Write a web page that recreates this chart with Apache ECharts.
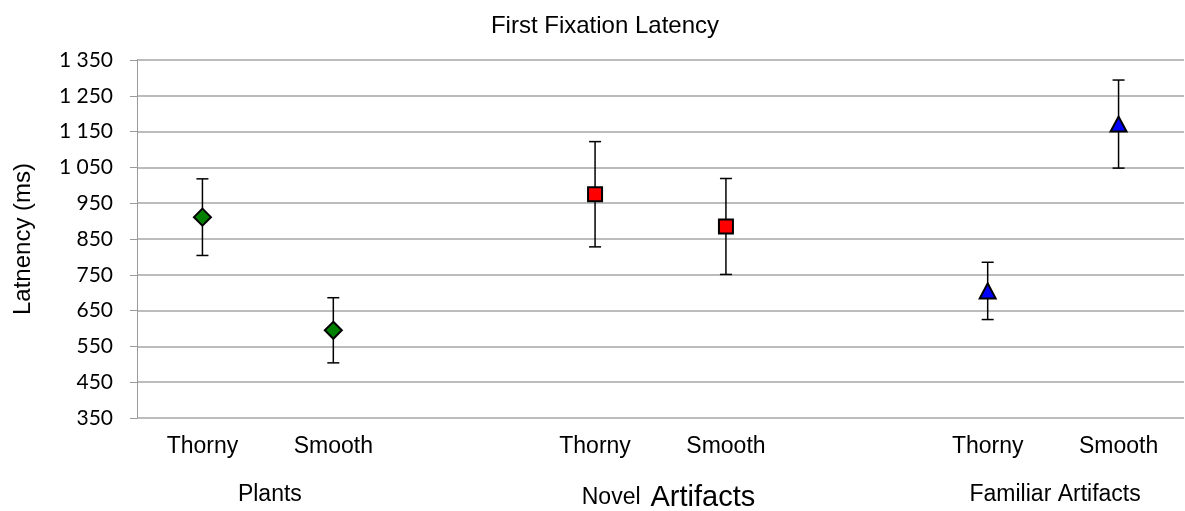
<!DOCTYPE html>
<html>
<head>
<meta charset="utf-8">
<title>First Fixation Latency</title>
<script src="https://cdn.jsdelivr.net/npm/echarts@6/dist/echarts.min.js"></script>
<style>
  html, body { margin: 0; padding: 0; background: #ffffff; }
  #chart { width: 1185px; height: 511px; }
</style>
</head>
<body>
<div id="chart"></div>
<script>
// Category slots: two conditions per stimulus group, blank slot between groups
const categories = ['Thorny', 'Smooth', '', 'Thorny', 'Smooth', '', 'Thorny', 'Smooth'];
const groupNames = ['Plants', 'Novel Artifacts', 'Familiar Artifacts'];
const groupSlots = [[0, 1], [3, 4], [6, 7]];

// Mean latency (ms) and error bar half-width per condition [Thorny, Smooth]
const plantsMean = [911, 595];
const plantsErr = [107, 91];
const novelMean = [975, 885];
const novelErr = [147, 134];
const familiarMean = [705, 1171];
const familiarErr = [80, 123];

// Value axis range
const yMin = 350;
const yMax = 1350;
const yStep = 100;

const FONT = '"Liberation Sans", Arial, sans-serif';

function points(slots, means) {
  return slots.map((s, i) => [s, means[i]]);
}
function errRows(slots, means, errs) {
  return slots.map((s, i) => [s, means[i] - errs[i], means[i] + errs[i]]);
}

const errData = []
  .concat(errRows(groupSlots[0], plantsMean, plantsErr))
  .concat(errRows(groupSlots[1], novelMean, novelErr))
  .concat(errRows(groupSlots[2], familiarMean, familiarErr));

function fmtThousands(v) {
  if (v >= 1000) {
    return Math.floor(v / 1000) + ' ' + String(v % 1000).padStart(3, '0');
  }
  return String(v);
}

const chart = echarts.init(document.getElementById('chart'), null, { renderer: 'canvas' });

const option = {
  animation: false,
  backgroundColor: '#ffffff',
  title: {
    text: 'First Fixation Latency',
    left: 600,
    top: 9,
    textAlign: 'center',
    textStyle: { fontFamily: FONT, fontSize: 24, fontWeight: 'normal', color: '#000000' }
  },
  grid: { left: 137, right: 1, top: 60, bottom: 93, containLabel: false },
  xAxis: {
    type: 'category',
    data: categories,
    boundaryGap: true,
    axisLine: { show: false },
    axisTick: { show: false },
    splitLine: { show: false },
    axisLabel: {
      interval: 0,
      margin: 17,
      fontFamily: FONT,
      fontSize: 23,
      color: '#000000'
    }
  },
  yAxis: {
    type: 'value',
    min: yMin,
    max: yMax,
    interval: yStep,
    name: 'Latnency (ms)',
    nameLocation: 'middle',
    nameGap: 102,
    nameRotate: 90,
    nameTextStyle: { fontFamily: FONT, fontSize: 24, color: '#000000' },
    axisLine: { show: true, lineStyle: { color: '#9a9a9a', width: 1 } },
    axisTick: { show: true, length: 7, lineStyle: { color: '#9a9a9a', width: 1 } },
    splitLine: { show: true, lineStyle: { color: '#a6a6a6', width: 1.5 } },
    axisLabel: {
      margin: 24,
      fontFamily: 'Lato, "Open Sans", sans-serif',
      fontSize: 21,
      color: '#000000',
      formatter: fmtThousands
    }
  },
  series: [
    {
      type: 'custom',
      name: 'error',
      z: 2,
      data: errData,
      encode: { x: 0, y: [1, 2] },
      renderItem: function (params, api) {
        const x = api.value(0);
        const lo = api.coord([x, api.value(1)]);
        const hi = api.coord([x, api.value(2)]);
        const cap = 6;
        const style = { stroke: '#000000', lineWidth: 1.5, fill: null };
        return {
          type: 'group',
          children: [
            { type: 'line', shape: { x1: lo[0], y1: lo[1], x2: hi[0], y2: hi[1] }, style: style },
            { type: 'line', shape: { x1: lo[0] - cap, y1: lo[1], x2: lo[0] + cap, y2: lo[1] }, style: style },
            { type: 'line', shape: { x1: hi[0] - cap, y1: hi[1], x2: hi[0] + cap, y2: hi[1] }, style: style }
          ]
        };
      }
    },
    {
      type: 'scatter',
      name: 'Plants',
      z: 5,
      symbol: 'diamond',
      symbolSize: 17,
      itemStyle: { color: '#008000', borderColor: '#000000', borderWidth: 2, opacity: 1 },
      data: points(groupSlots[0], plantsMean)
    },
    {
      type: 'scatter',
      name: 'Novel Artifacts',
      z: 5,
      symbol: 'rect',
      symbolSize: 14,
      itemStyle: { color: '#ff0000', borderColor: '#000000', borderWidth: 2, opacity: 1 },
      data: points(groupSlots[1], novelMean)
    },
    {
      type: 'scatter',
      name: 'Familiar Artifacts',
      z: 5,
      symbol: 'triangle',
      symbolSize: [16, 15],
      itemStyle: { color: '#0000ff', borderColor: '#000000', borderWidth: 2, opacity: 1 },
      data: points(groupSlots[2], familiarMean)
    }
  ]
};

chart.setOption(option);

// Group captions centred under each pair of category slots
const axisBottom = chart.convertToPixel({ yAxisIndex: 0 }, yMin);
const captions = groupSlots.map(function (slots, i) {
  const a = chart.convertToPixel({ xAxisIndex: 0 }, slots[0]);
  const b = chart.convertToPixel({ xAxisIndex: 0 }, slots[1]);
  const name = groupNames[i];
  let style;
  if (name === 'Novel Artifacts') {
    style = {
      text: '{s|Novel}{g| }{b|Artifacts}',
      rich: {
        s: { fontFamily: FONT, fontSize: 23, fill: '#000000' },
        g: { fontFamily: FONT, fontSize: 23, width: 10, fill: '#000000' },
        b: { fontFamily: FONT, fontSize: 29, fill: '#000000' }
      }
    };
  } else {
    style = { text: name, font: '23px ' + FONT, fill: '#000000' };
  }
  style.align = 'center';
  style.verticalAlign = 'middle';
  return {
    type: 'text',
    x: (a + b) / 2 + (name === 'Novel Artifacts' ? 8 : 2),
    y: axisBottom + (name === 'Novel Artifacts' ? 80 : 77),
    style: style
  };
});
chart.setOption({ graphic: captions });
</script>
</body>
</html>
